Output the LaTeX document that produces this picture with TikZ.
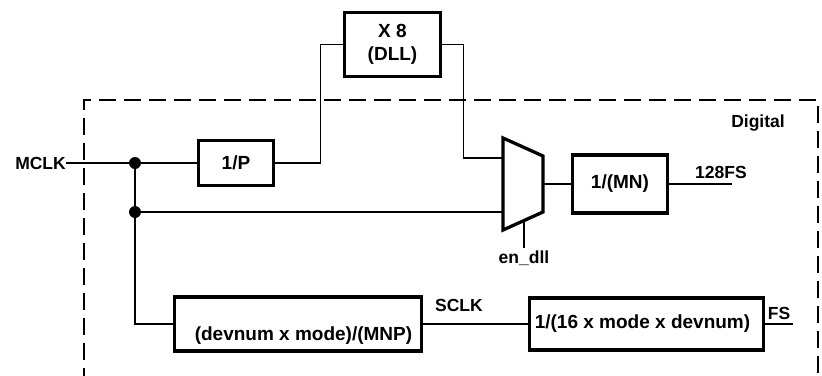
\documentclass[tikz,border=0pt]{standalone}
\usepackage{fontspec}
\setmainfont{Liberation Sans}
\begin{document}
\begin{tikzpicture}[x=1pt,y=-1pt,
  wire/.style={line width=1.1pt},
  blk/.style={draw,line width=3.3pt,inner sep=0pt,align=center,
    font=\fontsize{19}{23}\selectfont\bfseries},
  lbl/.style={inner sep=0pt,font=\fontsize{17.5}{20}\selectfont\bfseries},
  jdot/.style={circle,fill,inner sep=0pt,minimum size=12pt},
  border/.style={line width=2.7pt,dash pattern=on 17pt off 8pt}]
\useasboundingbox (0,0) rectangle (822,375);

% dashed digital boundary
\draw[border] (84,385) -- (84,100) -- (818,100) -- (818,385);
\node[lbl] (dig) at (758,123) {Digital};

% blocks
\node[blk,minimum width=75pt,minimum height=45pt] (p) at (236,163) {1/P};
\node[blk,minimum width=96pt,minimum height=64pt] (x8) at (392.5,44.5) {X 8\\(DLL)};
\node[blk,minimum width=95pt,minimum height=58pt] (mn) at (620,184) {1/(MN)};
\node[blk,minimum width=247pt,minimum height=54pt,
  label={[xshift=5.5pt,yshift=-12pt,font=\fontsize{19}{23}\selectfont\bfseries]center:(devnum x mode)/(MNP)}]
  (b1) at (298,324) {};
\node[blk,minimum width=234pt,minimum height=52pt] (b2) at (646.5,324) {\hspace{-8pt}1/(16 x mode x devnum)};

% mux
\coordinate (m1) at (503,138);
\coordinate (m2) at (543,156);
\coordinate (m3) at (543,212);
\coordinate (m4) at (503,230);
\draw[line width=3.3pt,line join=miter] (m1) -- (m2) -- (m3) -- (m4) -- cycle;
\coordinate (muxin1) at (503,158);
\coordinate (muxin2) at (503,212);
\coordinate (muxout) at (543,184);
\coordinate (muxsel) at (524,220.5);

% junction dots
\node[jdot] (d1) at (135,163) {};
\node[jdot] (d2) at (135,212) {};

% labels
\node[lbl,anchor=east] (mclk) at (66,163) {MCLK};
\node[lbl] (l128) at (721,172) {128FS};
\node[lbl,anchor=north] (en) at (524,251) {en\_dll};
\node[lbl] (sclk) at (459,305) {SCLK};
\node[lbl] (fs) at (779,313.5) {FS};

\coordinate (o128) at (732,184);
\coordinate (fsend) at (793,324);
\coordinate (seldn) at (524,248);

% wires
\draw[wire] (mclk.east) -- (d1);
\draw[wire] (d1) -- (p.west);
\draw[wire] (p.east) -- ++(45,0) |- (x8.west);
\draw[wire] (x8.east) -- ++(21,0) |- (muxin1);
\draw[wire] (d2) -- (muxin2);
\draw[wire] (d1) -- (d2) |- (b1.west);
\draw[wire] (muxout) -- (mn.west);
\draw[wire] (mn.east) -- (o128);
\draw[wire] (muxsel) -- (seldn);
\draw[wire] (b1.east) -- (b2.west);
\draw[wire] (b2.east) -- (fsend);
\end{tikzpicture}
\end{document}
